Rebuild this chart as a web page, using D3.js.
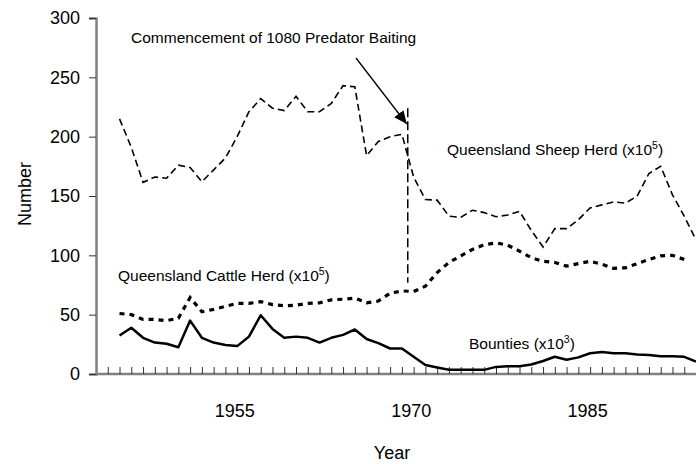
<!DOCTYPE html>
<html>
<head>
<meta charset="utf-8">
<script src="https://cdn.jsdelivr.net/npm/d3@7"></script>
<style>
  body { margin: 0; background: #fff; }
  svg { font-family: Arial, 'Liberation Sans', sans-serif; }
</style>
</head>
<body>
<div id="App"></div>
<script>
// values, one per year
const years = d3.range(1945, 1995);

const sheep = [
  215, 191, 161.5, 166, 165, 176, 174, 162, 172, 182,
  200, 221, 232, 224, 222, 234, 221, 221, 228, 243,
  242, 184, 196, 200, 202, 166, 147, 146.5, 133, 132,
  138, 136, 132.5, 134, 137, 121, 107, 122.5, 122.5, 130,
  140, 142.5, 145, 144, 150, 169, 175, 151, 133, 113
];

const cattle = [
  51, 50, 46, 46, 45, 47, 64.5, 52.5, 54.5, 57,
  59.5, 59.5, 61, 58.5, 57.5, 58, 59.5, 60, 62.5, 63,
  64, 60, 61.5, 68, 70, 69.5, 74, 85.5, 94, 99.5,
  105, 109, 110.5, 108.5, 103.5, 98, 95, 94, 91, 93,
  95, 92.5, 89, 89.5, 93, 96.5, 99.5, 100, 96.5
];

const bounties = [
  32.5, 39, 30.5, 26.5, 25.5, 22.5, 45, 30.5, 26.5, 24.5,
  23.5, 31.5, 49.5, 38, 30.5, 31.5, 30.5, 26.5, 30.5, 33,
  37.5, 29.5, 26, 21.5, 21.5, 14.5, 7.5, 5.5, 3.5, 3.5,
  3.5, 3.5, 6, 6.5, 6.5, 8, 11, 14.5, 12, 14,
  17.5, 18.5, 17.5, 17.5, 16.5, 16, 15, 15, 14.5, 10.5
];

const yTicks = [0, 50, 100, 150, 200, 250, 300];
const xLabels = [1955, 1970, 1985];

// baiting marker (year, from, to)
const baitYear = 1969.5;
const baitRange = [224, 77];

const width = 696;
const height = 464;

const svg = d3.select('#App')
  .append('svg')
  .attr('width', width)
  .attr('height', height);

const x = d3.scaleLinear().domain([1943, 1994]).range([96, 696]);
const y = d3.scaleLinear().domain([0, 300]).range([374, 18]);

svg.append('defs')
  .append('marker')
  .attr('id', 'arrow')
  .attr('viewBox', '0 -5 10 10')
  .attr('refX', 10)
  .attr('refY', 0)
  .attr('markerWidth', 13)
  .attr('markerHeight', 13)
  .attr('markerUnits', 'userSpaceOnUse')
  .attr('orient', 'auto')
  .append('path')
  .attr('d', 'M0,-4.5L10,0L0,4.5Z')
  .attr('fill', '#000');

// axes
const yAxis = svg.append('g')
  .attr('transform', `translate(${x.range()[0]},0)`)
  .call(d3.axisLeft(y).tickValues(yTicks).tickSize(7).tickPadding(9));

const xAxis = svg.append('g')
  .attr('transform', `translate(0,${y(0)})`)
  .call(d3.axisBottom(x).tickValues(d3.range(1944, 1995)).tickSize(-7).tickFormat(''));

const xLab = svg.append('g')
  .attr('transform', `translate(0,${y(0)})`)
  .call(d3.axisBottom(x).tickValues(xLabels).tickSize(0).tickPadding(30).tickFormat(d3.format('d')));

[yAxis, xAxis, xLab].forEach(g => {
  g.select('.domain').attr('stroke', '#808080').attr('stroke-width', 2.5);
  g.selectAll('.tick line').attr('stroke', '#333').attr('stroke-width', 1);
  g.selectAll('text').attr('font-size', 18).attr('fill', '#000')
    .attr('font-family', "Arial, 'Liberation Sans', sans-serif");
});
xLab.select('.domain').remove();
xLab.selectAll('text').attr('dx', -3);
xAxis.select('.domain').attr('d', `M${x.range()[0]},0H${width}`);

svg.append('text')
  .attr('x', 392)
  .attr('y', 459)
  .attr('text-anchor', 'middle')
  .attr('font-size', 18)
  .text('Year');

svg.append('text')
  .attr('transform', 'translate(31,194) rotate(-90)')
  .attr('text-anchor', 'middle')
  .attr('font-size', 18)
  .text('Number');

// series
const line = d3.line()
  .x((d, i) => x(years[i]))
  .y(d => y(d));

svg.append('path')
  .datum(sheep)
  .attr('fill', 'none')
  .attr('stroke', '#000')
  .attr('stroke-width', 1.6)
  .attr('stroke-dasharray', '7,4')
  .attr('d', line);

svg.append('path')
  .datum(cattle)
  .attr('fill', 'none')
  .attr('stroke', '#000')
  .attr('stroke-width', 3.2)
  .attr('stroke-dasharray', '5,5')
  .attr('d', line);

svg.append('path')
  .datum(bounties)
  .attr('fill', 'none')
  .attr('stroke', '#000')
  .attr('stroke-width', 2.5)
  .attr('stroke-linejoin', 'round')
  .attr('d', line);

// 1080 baiting marker + arrow
svg.append('line')
  .attr('x1', x(baitYear))
  .attr('x2', x(baitYear))
  .attr('y1', y(baitRange[0]))
  .attr('y2', y(baitRange[1]))
  .attr('stroke', '#000')
  .attr('stroke-width', 1.5)
  .attr('stroke-dasharray', '9,4');

svg.append('line')
  .attr('x1', 356)
  .attr('y1', 58)
  .attr('x2', x(baitYear) - 1)
  .attr('y2', 124)
  .attr('stroke', '#000')
  .attr('stroke-width', 1.3)
  .attr('marker-end', 'url(#arrow)');

// labels
const labels = [
  { x: 131, y: 43, text: 'Commencement of 1080 Predator Baiting' },
  { x: 447, y: 155, text: 'Queensland Sheep Herd (x10', sup: '5' },
  { x: 118, y: 281, text: 'Queensland Cattle Herd (x10', sup: '5' },
  { x: 469, y: 349, text: 'Bounties (x10', sup: '3' }
];

labels.forEach(l => {
  const t = svg.append('text')
    .attr('x', l.x)
    .attr('y', l.y)
    .attr('font-size', 15.5)
    .text(l.text);
  if (l.sup) {
    t.append('tspan').attr('font-size', 10.5).attr('dy', -6.5).text(l.sup);
    t.append('tspan').attr('dy', 6.5).text(')');
  }
});
</script>
</body>
</html>
